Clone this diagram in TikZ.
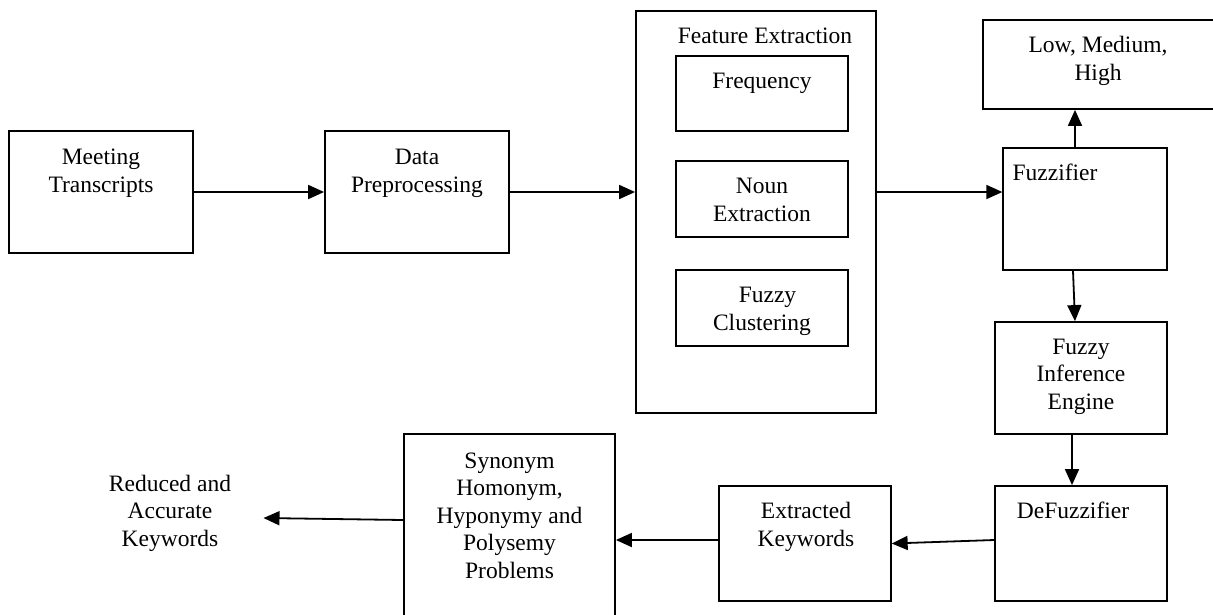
\documentclass[tikz,border=0pt]{standalone}
\usepackage{fontspec}
\setmainfont{Liberation Serif}
\usetikzlibrary{arrows.meta}
\begin{document}
\begin{tikzpicture}[x=1pt,y=-1pt,
  box/.style={draw, line width=1.8pt, inner sep=0pt},
  txt/.style={align=center, inner sep=0pt, anchor=base, font=\fontsize{23.5}{27.5}\selectfont},
  arr/.style={line width=1.8pt, -{Triangle[length=16pt,width=14pt]}}]
\useasboundingbox (0,0) rectangle (1213,614);
\clip (0,0) rectangle (1213,614);
% boxes
\node[box, minimum width=184pt, minimum height=122pt] (mt) at (101,192) {};
\node[box, minimum width=184pt, minimum height=122pt] (dp) at (417,192) {};
\node[box, minimum width=240pt, minimum height=402pt] (fe) at (756,212) {};
\node[box, minimum width=172pt, minimum height=75pt] (freq) at (762,93.5) {};
\node[box, minimum width=172pt, minimum height=76pt] (noun) at (762,199) {};
\node[box, minimum width=172pt, minimum height=76pt] (fc) at (762,308) {};
\node[box, minimum width=257pt, minimum height=89pt] (lmh) at (1111.5,64.5) {};
\node[box, minimum width=163.5pt, minimum height=122pt] (fuzz) at (1085,209) {};
\node[box, minimum width=171.5pt, minimum height=112pt] (fie) at (1081,378) {};
\node[box, minimum width=171.5pt, minimum height=115pt] (defz) at (1081,543.5) {};
\node[box, minimum width=171.5pt, minimum height=115pt] (ek) at (805,543.5) {};
\node[box, minimum width=211pt, minimum height=206pt] (syn) at (509.5,537) {};
% texts (base = baseline of last line)
\node[txt] (mtT) at (101,192) {Meeting\\Transcripts};
\node[txt] (dpT) at (417,192) {Data\\Preprocessing};
\node[txt] (feT) at (765,43) {Feature Extraction};
\node[txt] (freqT) at (762,88) {Frequency};
\node[txt] (nounT) at (762,221) {Noun\\Extraction};
\node[txt] (fcT) at (762,330) {\hspace{11pt}Fuzzy\\Clustering};
\node[txt] (lmhT) at (1098,80) {Low, Medium,\\High};
\node[txt] (fuzzT) at (1055,180) {Fuzzifier};
\node[txt] (fieT) at (1081,409) {Fuzzy\\Inference\\Engine};
\node[txt] (defzT) at (1073,518) {DeFuzzifier};
\node[txt] (ekT) at (806,546) {Extracted\\Keywords};
\node[txt] (synT) at (509.5,578) {Synonym\\Homonym,\\Hyponymy and\\Polysemy\\Problems};
\node[txt] (red) at (170,546) {Reduced and\\Accurate\\Keywords};
\coordinate (redend) at (263.5,518);
% connectors
\draw[arr] (mt.east) -- (dp.west);
\draw[arr] (dp.east) -- (dp.east -| fe.west);
\draw[arr] (fe.east |- dp.east) -- (fuzz.west |- dp.east);
\draw[arr] ([xshift=-10pt]fuzz.north) -- ([xshift=-10pt]fuzz.north |- lmh.south);
\draw[arr] ([xshift=-12pt]fuzz.south) -- ([xshift=-6pt]fie.north);
\draw[arr] ([xshift=-9pt]fie.south) -- ([xshift=-9pt]defz.north);
\draw[arr] ([yshift=3.5pt]defz.west) -- (ek.east);
\draw[arr] ([yshift=3.5pt]ek.west) -- ([yshift=3.5pt]ek.west -| syn.east);
\draw[arr] ([yshift=17pt]syn.west) -- (redend);
\end{tikzpicture}
\end{document}
